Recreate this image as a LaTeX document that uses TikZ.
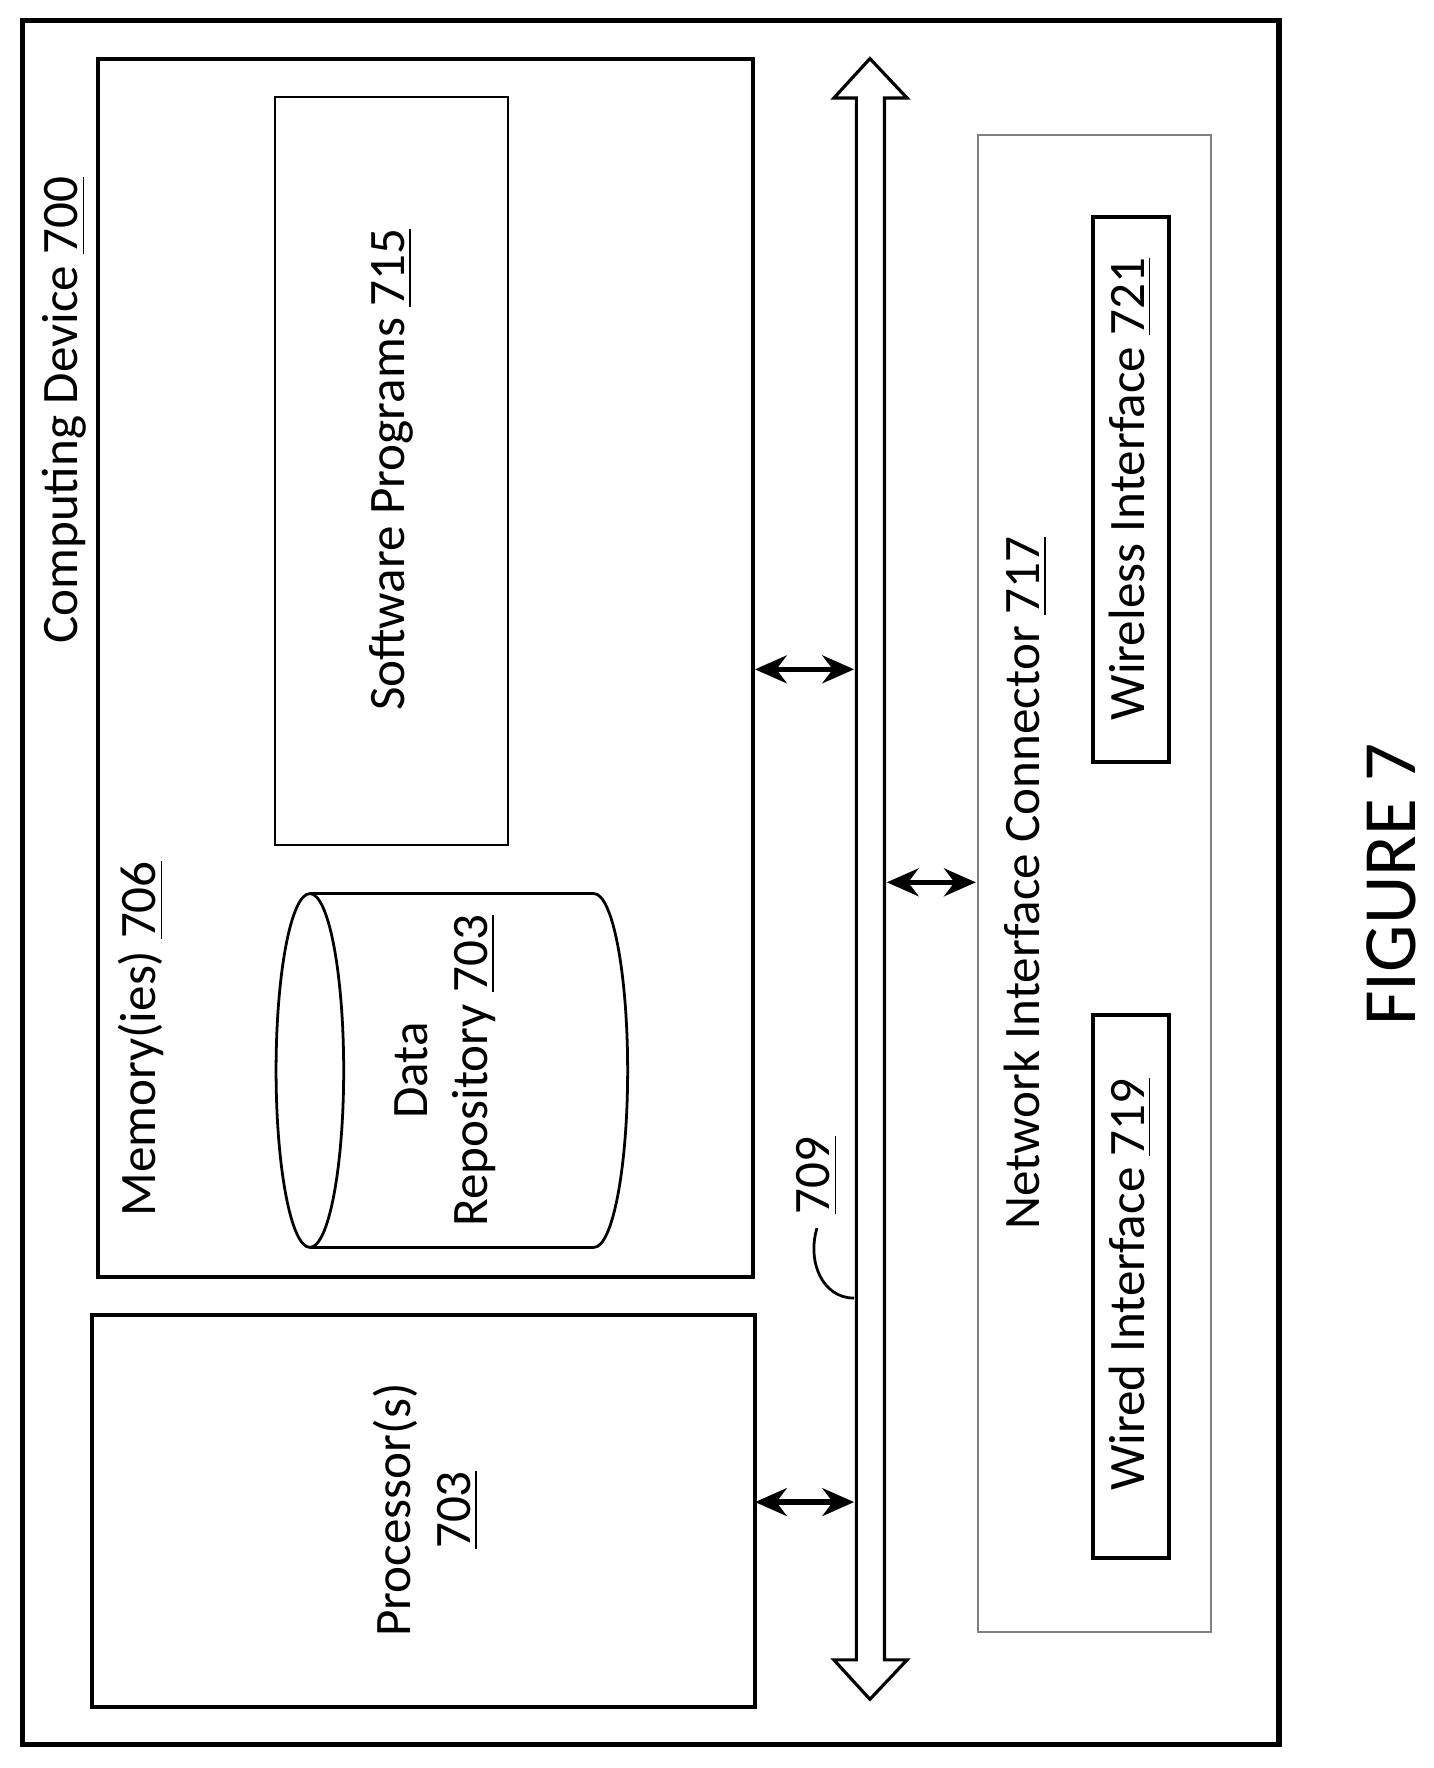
\documentclass[tikz,border=0pt]{standalone}
\usepackage{fontspec}
\setmainfont{Carlito}
\usetikzlibrary{arrows.meta, calc}

\tikzset{
    lbl/.style={rotate=90, font=\fontsize{12.9}{15}\selectfont, align=center},
    box/.style={draw, line width=1pt},
    dblarrow/.style={{Stealth[length=8pt,width=7pt]}-{Stealth[length=8pt,width=7pt]}, line width=1.4pt}
}

\begin{document}
\begin{tikzpicture}[x=0.1mm, y=-0.1mm]
        \useasboundingbox (0,0) rectangle (1272,1569);
        % outer and main blocks
        \draw[line width=1.4pt] (20,18) rectangle (1135,1548);
        \draw[box] (87,52) rectangle (668,1133);
        \draw[box] (82,1167) rectangle (670,1515);
        \draw[line width=0.5pt] (244,86) rectangle (451,750);
        \draw[line width=0.5pt, draw=gray] (868,120) rectangle (1075,1448);
        \draw[box] (970,193) rectangle (1037,676);
        \draw[box] (970,901) rectangle (1037,1383);
        
        % data repository
        \draw[line width=0.7pt] (275,950) ellipse (30 and 157);
        \draw[line width=0.7pt] (275,793) -- (527,793) arc[start angle=-90, end angle=90, x radius=30, y radius=157] -- (275,1107);
        
        % bus
        \draw[line width=0.8pt] (760,87) -- (740,87) -- (772,52) -- (805,87) -- (785,87)
            -- (785,1473) -- (805,1473) -- (772,1508) -- (740,1473) -- (760,1473) -- cycle;
        
        \coordinate (memR) at (670,594);
        \coordinate (busL1) at (758,594);
        \coordinate (procR) at (670,1333);
        \coordinate (busL2) at (758,1333);
        \coordinate (busR) at (787,783);
        \coordinate (netL) at (866,783);
        \draw[dblarrow] (memR) -- (busL1);
        \draw[dblarrow] (procR) -- (busL2);
        \draw[dblarrow] (busR) -- (netL);
        
        % labels
        \node[lbl] (dev) at (57,364) {Computing Device \underline{700}};
        \node[lbl] (mem) at (125,922) {Memory(ies) \underline{706}};
        \node[lbl] (sw) at (347,417) {Software Programs \underline{715}};
        \node[lbl] (repo) at (395,950) {Data\\Repository \underline{703}};
        \node[lbl] (proc) at (378,1340) {Processor(s)\\\underline{703}};
        \node[lbl] (net) at (910,784) {Network Interface Connector \underline{717}};
        \node[lbl] (wless) at (1003,434) {Wireless Interface \underline{721}};
        \node[lbl] (wired) at (1003,1140) {Wired Interface \underline{719}};
        \node[lbl] (busnum) at (725,1043) {\underline{709}};
        \coordinate (bustap) at (758,1152);
        \draw[line width=0.7pt] (bustap) .. controls (730,1152) and (716,1120) .. (busnum.west);
        \node[rotate=90, font=\fontsize{19}{22}\selectfont] (fig) at (1235,785) {FIGURE 7};
        
    \end{tikzpicture}
\end{document}
